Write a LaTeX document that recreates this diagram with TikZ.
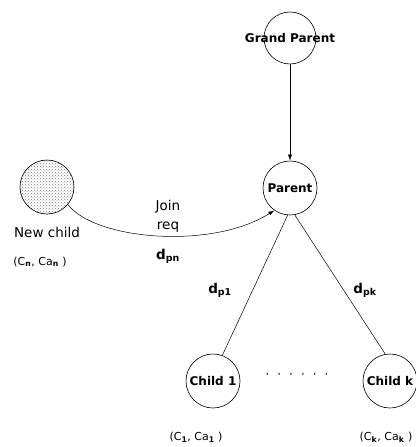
\documentclass[tikz,border=0pt]{standalone}
\usepackage{fontspec}
\setmainfont{DejaVu Sans}
\usetikzlibrary{arrows.meta,patterns}
\begin{document}
\begin{tikzpicture}[x=1pt,y=-1pt,
  circ/.style={draw,circle,minimum size=54pt,inner sep=0pt,line width=0.6pt},
  ctext/.style={font=\bfseries\fontsize{12}{14}\selectfont},
  lbl/.style={font=\fontsize{13.5}{19}\selectfont,align=center},
  sub/.style={font=\fontsize{11}{13}\selectfont},
  conn/.style={line width=0.5pt},
  arr/.style={conn,-{Latex[length=6pt,width=4pt]}}]
\useasboundingbox (0,0) rectangle (415,447);
% circles
\node[circ,minimum size=52pt] (gp) at (290,38) {};
\node[circ] (p) at (290,188) {};
\node[circ,pattern=crosshatch dots,pattern color=gray] (nc) at (47,187) {};
\node[circ] (c1) at (213,381) {};
\node[circ] (ck) at (390,381) {};
% circle texts
\node[ctext] (gpt) at (gp) {Grand Parent};
\node[ctext] (pt) at (p) {Parent};
\node[ctext] (c1t) at (c1) {Child 1};
\node[ctext] (ckt) at (ck) {Child k};
% labels
\node[lbl] (nct) at (47,232) {New child};
\node[sub] (ncc) at (40,262) {(C\textsubscript{\textbf{n}}, Ca\textsubscript{\textbf{n}} )};
\node[sub] (c1c) at (196,437) {(C\textsubscript{\textbf{1}}, Ca\textsubscript{\textbf{1}} )};
\node[sub] (ckc) at (386,437) {(C\textsubscript{\textbf{k}}, Ca\textsubscript{\textbf{k}} )};
\node[lbl] (jr) at (168,216) {Join\\req};
\node[lbl] (dpn) at (168,256) {\textbf{d\textsubscript{pn}}};
\node[lbl] (dp1) at (220,290) {\textbf{d\textsubscript{p1}}};
\node[lbl] (dpk) at (365,290) {\textbf{d\textsubscript{pk}}};
\node[font=\fontsize{12}{14}\selectfont] (dots) at (297,376) {·\hspace{8pt}·\hspace{8pt}·\hspace{8pt}·\hspace{8pt}·\hspace{8pt}·};
% connectors
\draw[arr] (gp) -- (p);
\draw[arr] (nc.-40) .. controls (95,240) and (212,250) .. (p.235);
\draw[conn] (p.-95) -- (c1.70);
\draw[conn] (p.-80) -- (ck.100);
\end{tikzpicture}
\end{document}
